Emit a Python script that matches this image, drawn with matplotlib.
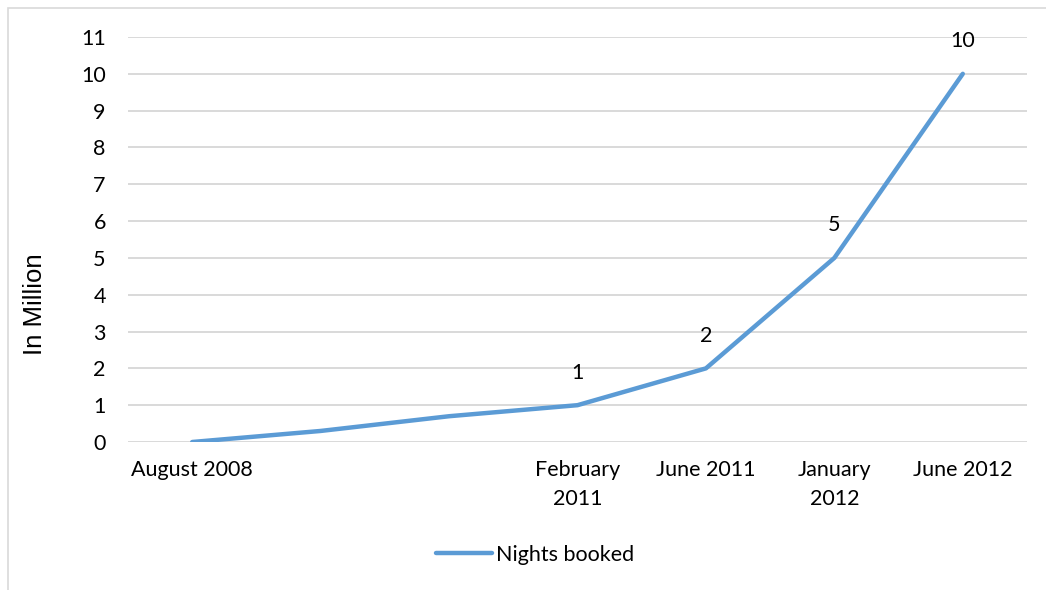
import matplotlib
matplotlib.use('Agg')

import matplotlib.pyplot as plt
from matplotlib.patches import Rectangle

# data
categories = ["August 2008", "", "", "February\n2011", "June 2011", "January\n2012", "June 2012"]
nights_booked = [0, 0.3, 0.7, 1, 2, 5, 10]
shown_labels = ["", "", "", "1", "2", "5", "10"]
y_ticks = list(range(0, 12))

plt.rcParams['font.family'] = ['Lato', 'DejaVu Sans']

W, H = 1046, 590
fig = plt.figure(figsize=(W / 100, H / 100), dpi=100)

# light outer frame (only left/top visible in the reference)
fig.patches.append(Rectangle((8 / W, -0.5), 2.0, 1 - 8 / H + 0.5,
                             transform=fig.transFigure, fill=False,
                             edgecolor='#D9D9D9', linewidth=1.2))

ax = fig.add_axes([128 / W, 148 / H, (1027 - 128) / W, (442 - 37) / H])

x = list(range(len(categories)))
line, = ax.plot(x, nights_booked, color='#5B9BD5', linewidth=3.2,
                solid_capstyle='round', solid_joinstyle='round',
                label='Nights booked', zorder=3)

fs = 15.5
for xi, yi, lab in zip(x, nights_booked, shown_labels):
    if lab:
        ax.annotate(lab, (xi, yi), xytext=(0, 23.5), textcoords='offset points',
                    ha='center', va='center', fontsize=fs, color='#000000')

ax.set_xlim(-0.5, len(categories) - 0.5)
ax.set_ylim(0, 11)
ax.set_yticks(y_ticks)
ax.set_xticks(x)
ax.set_xticklabels(categories, fontsize=fs, linespacing=1.55)
ax.tick_params(axis='y', labelsize=fs, length=0, pad=16)
ax.tick_params(axis='x', length=0, pad=13)
ax.grid(axis='y', color='#D9D9D9', linewidth=1.4)
ax.set_axisbelow(True)
for s in ax.spines.values():
    s.set_visible(False)

# axis title sits lower than the plot centre in the reference
fig.text(35 / W, 1 - 304 / H, "In Million", rotation=90, ha='center', va='center',
         fontsize=18.5, family=['Liberation Sans', 'DejaVu Sans'])

fig.legend(handles=[line], loc='center', bbox_to_anchor=(0.5 + 12 / W, 1 - 555 / H),
           frameon=False, fontsize=fs, handlelength=2.6, handletextpad=0.2)

fig.savefig('out.png', dpi=100, facecolor='white')
